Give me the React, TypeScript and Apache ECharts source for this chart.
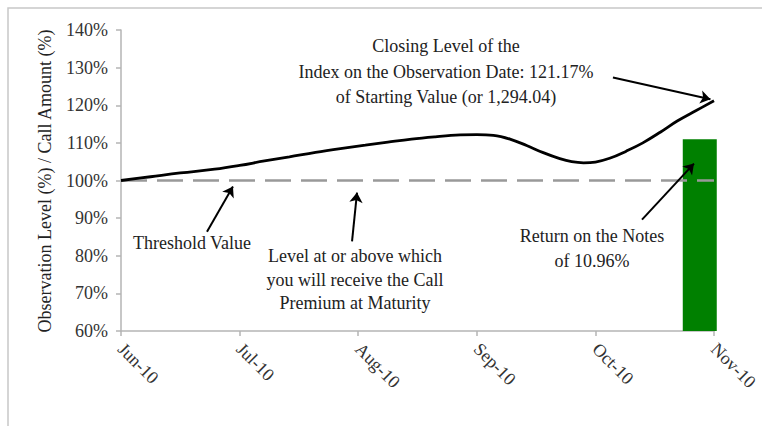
import React, { useEffect, useRef } from 'react';
import * as echarts from 'echarts';

const monthLabels = ['Jun-10', 'Jul-10', 'Aug-10', 'Sep-10', 'Oct-10', 'Nov-10'];
const yTicks = [60, 70, 80, 90, 100, 110, 120, 130, 140];

// month index (0 = Jun-10) and observation level (%)
const levelX = [0, 0.25, 0.5, 0.79, 1.0, 1.21, 1.42, 1.64, 1.85, 2.06, 2.25, 2.45, 2.65, 2.86, 3.0, 3.14, 3.28, 3.42, 3.56, 3.7, 3.8, 3.9, 4.0, 4.12, 4.26, 4.4, 4.55, 4.69, 4.85, 5.0];
const levelY = [100, 101, 102, 103, 104, 105.2, 106.3, 107.5, 108.5, 109.4, 110.2, 111, 111.6, 112.1, 112.2, 112, 111, 109.3, 107.4, 105.8, 105, 104.7, 104.9, 105.9, 107.8, 110, 112.9, 115.8, 118.6, 121.17];

const thresholdValue = 100;
const callAmountX = 4.88;
const callAmountBase = 60;
const callAmountTop = 110.96;

const FONT = '"Liberation Serif", "DejaVu Serif", serif';

export default function App() {
  const ref = useRef<HTMLDivElement>(null);
  useEffect(() => {
    if (!ref.current) return;
    const chart = echarts.init(ref.current, undefined, { renderer: 'svg' });
    const textStyle = (x: number, y: number, text: string) => ({
      type: 'text',
      x,
      y,
      style: {
        text,
        fill: '#222',
        font: `18px ${FONT}`,
        align: 'center',
        verticalAlign: 'middle',
        lineHeight: 25,
      },
    });
    chart.setOption({
      animation: false,
      grid: { left: 121, right: 48, top: 30, bottom: 95 },
      xAxis: {
        type: 'value',
        min: 0,
        max: 5,
        interval: 1,
        axisLine: { show: true, lineStyle: { color: '#b5b5b5', width: 1.5 } },
        axisTick: { show: true, length: 5, lineStyle: { color: '#b5b5b5', width: 1.5 } },
        splitLine: { show: false },
        axisLabel: {
          rotate: -45,
          margin: 15,
          color: '#333',
          fontFamily: FONT,
          fontSize: 18,
          formatter: (v: number) => monthLabels[Math.round(v)] ?? '',
        },
      },
      yAxis: {
        type: 'value',
        min: yTicks[0],
        max: yTicks[yTicks.length - 1],
        interval: 10,
        axisLine: { show: true, lineStyle: { color: '#b5b5b5', width: 1.5 } },
        axisTick: { show: true, length: 5, lineStyle: { color: '#b5b5b5', width: 1.5 } },
        splitLine: { show: false },
        axisLabel: {
          margin: 13,
          color: '#333',
          fontFamily: FONT,
          fontSize: 18,
          formatter: '{value}%',
        },
      },
      series: [
        {
          type: 'custom',
          silent: true,
          clip: false,
          z: 2,
          data: [[callAmountX, callAmountBase, callAmountTop]],
          renderItem: (params: any, api: any) => {
            const x = api.value(0);
            const p0 = api.coord([x, api.value(1)]);
            const p1 = api.coord([x, api.value(2)]);
            const w = 34;
            return {
              type: 'rect',
              shape: { x: p0[0] - w / 2, y: p1[1], width: w, height: p0[1] - p1[1] },
              style: { fill: '#008000' },
            };
          },
        },
        {
          type: 'line',
          symbol: 'none',
          silent: true,
          z: 3,
          lineStyle: { color: '#999', width: 2.5, type: [26, 10] },
          data: [[0, thresholdValue], [5, thresholdValue]],
          markLine: {
            silent: true,
            symbol: ['none', 'arrow'],
            symbolSize: 10,
            label: { show: false },
            lineStyle: { color: '#000', width: 2, type: 'solid' },
            data: [
              [{ coord: [4.148, 127.4] }, { coord: [4.97, 121.6] }],
              [{ coord: [0.725, 86.4] }, { coord: [0.944, 98.4] }],
              [{ coord: [1.948, 83.8] }, { coord: [1.99, 96.8] }],
              [{ coord: [4.393, 89.6] }, { coord: [4.831, 104.5] }],
            ],
          },
        },
        {
          type: 'line',
          symbol: 'none',
          smooth: 0.4,
          silent: true,
          z: 4,
          lineStyle: { color: '#000', width: 2.8 },
          data: levelX.map((x, i) => [x, levelY[i]]),
        },
      ],
      graphic: [
        {
          type: 'rect',
          z: -10,
          shape: { x: 8, y: 8, width: 800, height: 500 },
          style: { fill: 'none', stroke: '#c8c8c8', lineWidth: 1.5 },
        },
        {
          type: 'text',
          x: 45,
          y: 181,
          rotation: Math.PI / 2,
          style: {
            text: 'Observation Level (%) / Call Amount (%)',
            fill: '#222',
            font: `18px ${FONT}`,
            align: 'center',
            verticalAlign: 'middle',
          },
        },
        textStyle(446, 46, 'Closing Level of the'),
        textStyle(446, 72, 'Index on the Observation Date: 121.17%'),
        textStyle(446, 97, 'of Starting Value (or 1,294.04)'),
        textStyle(192, 243, 'Threshold Value'),
        textStyle(355, 256, 'Level at or above which'),
        textStyle(355, 280, 'you will receive the Call'),
        textStyle(355, 303, 'Premium at Maturity'),
        textStyle(592, 236, 'Return on the Notes'),
        textStyle(592, 261, 'of 10.96%'),
      ],
    });
    return () => chart.dispose();
  }, []);
  return (
    <div
      ref={ref}
      style={{ position: 'absolute', left: 0, top: 0, width: 762, height: 426 }}
    />
  );
}
